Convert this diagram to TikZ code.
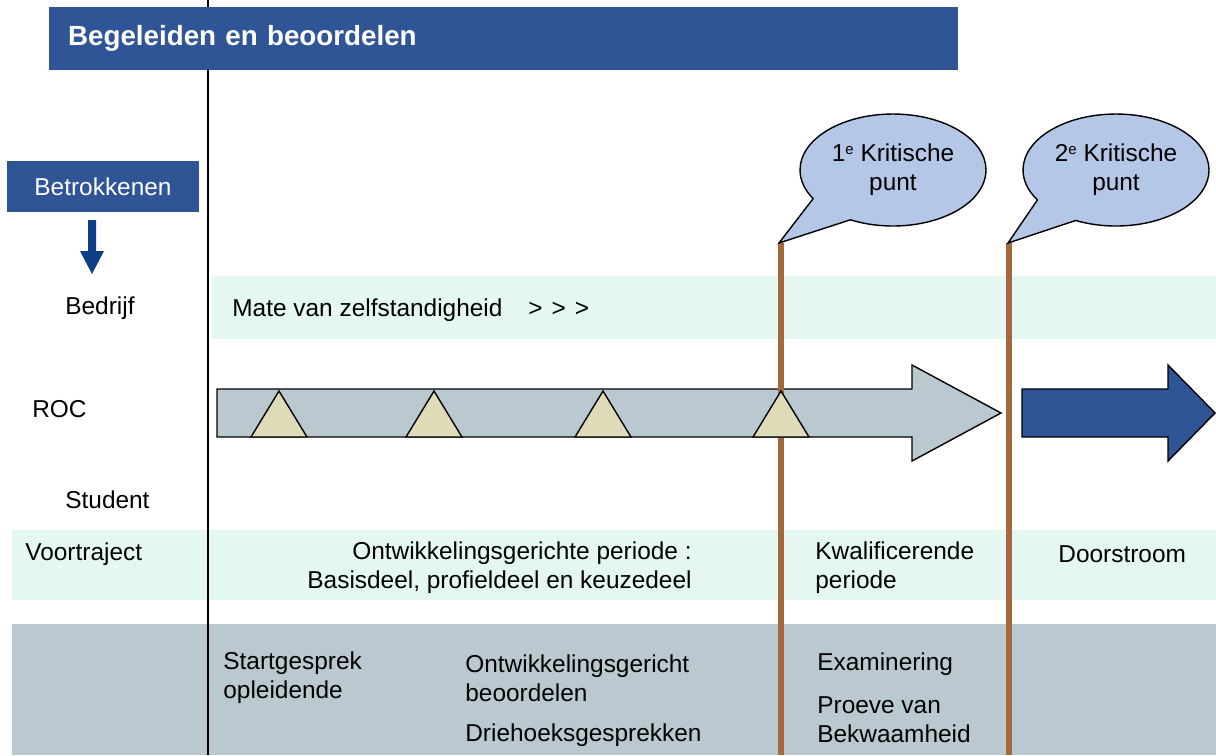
\documentclass[tikz,border=0pt]{standalone}
\usepackage{fontspec}
\setmainfont{Liberation Sans}
\usepackage{xcolor}
\usetikzlibrary{shapes,shapes.callouts,arrows,positioning,calc}
\definecolor{titleblue}{HTML}{2F5597}
\definecolor{flowblue}{HTML}{0D3F86}
\definecolor{mint}{HTML}{E4F7F2}
\definecolor{steel}{HTML}{B9C9CF}
\definecolor{sand}{HTML}{DFDBB9}
\definecolor{cloud}{HTML}{B4C7E7}
\definecolor{rust}{HTML}{A5683A}
\newcommand{\ord}[1]{\raisebox{0.55ex}{\fontsize{8.5}{9}\selectfont #1}}

\begin{document}
\begin{tikzpicture}[
    x=0.02cm, y=-0.02cm,
    txt/.style={inner sep=0pt, font=\fontsize{13.9}{16.5}\selectfont, align=left},
    header/.style={fill=titleblue, text=white, inner sep=0pt},
    cloudnote/.style={ellipse callout, draw, fill=cloud, line width=0.8pt, minimum width=3.72cm, minimum height=2.24cm, callout pointer arc=32, inner sep=0pt, align=center, font=\fontsize{13.9}{16.5}\selectfont},
    milestone/.style={draw, fill=sand, line width=0.8pt},
    blockarrow/.style={draw, line width=0.8pt},
    marker/.style={draw=rust, line width=3.4pt},
]
\useasboundingbox (0,0) rectangle (1216,755);

% Bands
\fill[mint] (212,276) rectangle (1216,339);
\fill[mint] (12,530) rectangle (1216,600);
\fill[steel] (12,624) rectangle (1216,755);

% Time axis
\draw[line width=1.2pt] (208,0) -- (208,755);

% Headers
\node[header, minimum width=18.18cm, minimum height=1.26cm, text width=17.42cm, align=left, font=\fontsize{15.8}{18}\selectfont\bfseries] (title) at (503.5,38.5) {Begeleiden en beoordelen};
\node[header, minimum width=3.84cm, minimum height=1.02cm, font=\fontsize{13.9}{16.5}\selectfont] (betr) at (103,186.5) {Betrokkenen};
\coordinate (flow) at (92,220);
\fill[flowblue] (flow) ++(-4,0) -- ++(8,0) -- ++(0,31) -- ++(8,0) -- ++(-12,23) -- ++(-12,-23) -- ++(8,0) -- cycle;

% Actors
\node[txt, anchor=west] (bedrijf) at (65,308) {Bedrijf};
\node[txt, anchor=west] (roc) at (32,409) {ROC};
\node[txt, anchor=west] (student) at (65,500) {Student};
\node[txt, anchor=west] (mate) at (232,310) {Mate van zelfstandigheid\hspace{0.52cm}>\hspace{0.18cm}>\hspace{0.18cm}>};

% Process arrows
\draw[blockarrow, fill=steel] (217,389) -- (912,389) -- (912,365) -- (1001,413) -- (912,461) -- (912,437) -- (217,437) -- cycle;
\draw[blockarrow, fill=titleblue] (1022,389) -- (1168,389) -- (1168,365) -- (1215,413) -- (1168,461) -- (1168,437) -- (1022,437) -- cycle;

% Critical points
\coordinate (tip1) at (779,243);
\coordinate (tip2) at (1008,243);
\coordinate (end1) at (781,755);
\coordinate (end2) at (1009,755);
\draw[marker] (781,243) -- (end1);
\draw[marker] (1009,243) -- (end2);
\node[cloudnote, callout absolute pointer={(tip1)}] (kp1) at (893,170) {1\ord{e} Kritische\\punt};
\node[cloudnote, callout absolute pointer={(tip2)}] (kp2) at (1116,170) {2\ord{e} Kritische\\punt};

% Milestones
\foreach \m in {279,434,603,781}
  \draw[milestone] (\m-28,437) -- (\m,391) -- (\m+28,437) -- cycle;

% Phases
\node[txt, anchor=west] (voor) at (25,554) {Voortraject};
\node[txt, anchor=east, align=right] (ontw) at (692,568) {Ontwikkelingsgerichte periode :\\Basisdeel, profieldeel en keuzedeel};
\node[txt, anchor=west] (kwal) at (815,568) {Kwalificerende\\periode};
\node[txt, anchor=west] (door) at (1058,554) {Doorstroom};

% Activities
\node[txt, anchor=west] (start) at (223,678) {Startgesprek\\opleidende};
\node[txt, anchor=west] (obeo) at (465,678) {Ontwikkelingsgericht\\beoordelen};
\node[txt, anchor=west] (drie) at (465,735) {Driehoeksgesprekken};
\node[txt, anchor=west] (exam) at (817,664) {Examinering};
\node[txt, anchor=west] (proeve) at (817,720) {Proeve van\\Bekwaamheid};

\end{tikzpicture}
\end{document}
